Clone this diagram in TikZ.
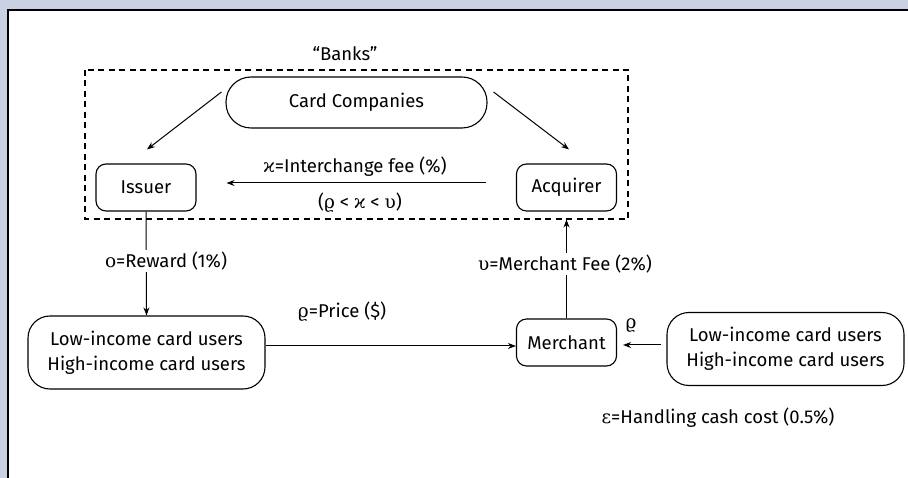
\documentclass[tikz,border=0pt]{standalone}
\usepackage{fontspec}
\setmainfont{Fira Sans}
\newfontfamily\gk{DejaVu Serif}
\usetikzlibrary{arrows.meta,calc}
\definecolor{frameblue}{HTML}{C9D1E3}
\newcommand\txtsize{\fontsize{18.5}{24.7}\selectfont}
\tikzset{
  lbl/.style={font=\txtsize, inner sep=1pt},
  rbox/.style={draw, line width=1.1pt, rounded corners=10pt, minimum width=100pt, minimum height=47pt, inner sep=0pt, font=\txtsize},
  pill/.style={draw, line width=1.1pt, rounded corners=25pt, minimum width=261pt, minimum height=51pt, inner sep=0pt, font=\txtsize},
  ubox/.style={draw, line width=1.1pt, rounded corners=22pt, minimum width=237pt, minimum height=73pt, inner sep=0pt, align=center, font=\txtsize},
  arr/.style={line width=1pt, -{Stealth[length=8pt,width=6pt]}},
  banks/.style={draw, line width=1.8pt, dash pattern=on 6pt off 4.5pt}
}
\begin{document}
\begin{tikzpicture}[x=1pt,y=-1pt]
\useasboundingbox (0,0) rectangle (908,478);
\fill[frameblue] (0,0) rectangle (908,478);
\fill[white] (8,10) rectangle (910,480);
\draw[line width=2pt] (8,480) -- (8,10) -- (910,10);

% dashed Banks box
\draw[banks] (85,70) rectangle (628,219);
\node[lbl] (banks) at (345,54) {“Banks”};

% nodes
\node[pill] (cc) at (356.5,102.5) {Card Companies};
\node[rbox] (iss) at (146,187.5) {Issuer};
\node[rbox] (acq) at (566.5,187.5) {Acquirer};
\node[ubox] (u1) at (146.5,352.5) {Low-income card users\\High-income card users};
\node[rbox] (mer) at (566.5,342.5) {Merchant};
\node[ubox] (u2) at (785.5,349) {Low-income card users\\High-income card users};

% card companies to issuer / acquirer
\draw[arr] ($(cc.west)+(-4,-10.5)$) -- ($(iss.north)+(1,-14)$);
\draw[arr] ($(cc.east)+(6,-10.5)$) -- ($(acq.north)+(2.5,-14)$);

% interchange
\draw[arr] ($(acq.west)+(-30,-4.5)$) coordinate (ia) -- ($(iss.east)+(30,-4.5)$) coordinate (ib);
\node[lbl] (ifee) at (355,167) {{\gk ϰ}=Interchange fee (\%)};
\node[lbl] (ineq) at (360,203) {({\gk ϱ} < {\gk ϰ} < {\gk υ})};

% issuer to users
\draw[arr] (iss.south) -- (u1.north);
\node[lbl, fill=white, inner sep=2pt] (rew) at (166,261) {{\gk ο}=Reward (1\%)};

% users to merchant
\draw[arr] ($(u1.east)+(0,-6.5)$) coordinate (pa) -- (pa -| mer.west);
\node[lbl] (price) at (342,312) {{\gk ϱ}=Price (\$)};

% merchant to acquirer
\draw[arr] (mer.north) -- ($(acq.south)+(0,8)$);
\node[lbl, fill=white, inner sep=2pt] (mfee) at (565,264) {{\gk υ}=Merchant Fee (2\%)};

% cash users to merchant
\draw[arr] ($(u2.west)+(-5,-4)$) coordinate (ca) -- ($(ca -| mer.east)+(6,0)$);
\node[lbl] (rho) at (631,326) {{\gk ϱ}};

\node[lbl] (eps) at (718,418) {{\gk ε}=Handling cash cost (0.5\%)};
\end{tikzpicture}
\end{document}
